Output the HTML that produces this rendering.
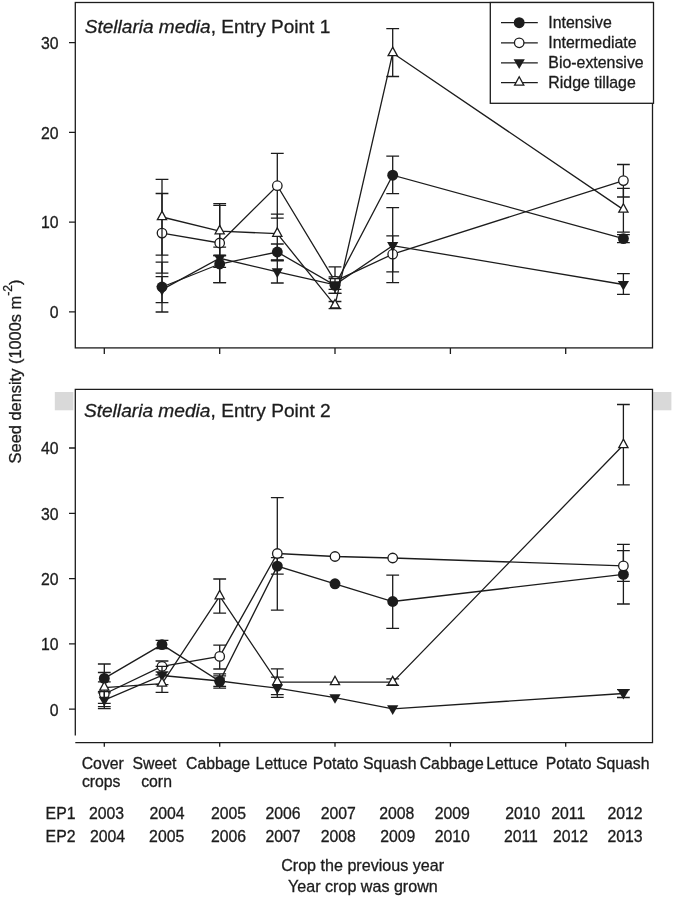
<!DOCTYPE html>
<html><head><meta charset="utf-8"><title>Stellaria media seed density</title>
<style>
html,body{margin:0;padding:0;background:#fff}
svg{display:block}
text{font-family:"Liberation Sans",Arial,sans-serif;fill:#1c1c1c;stroke:#1c1c1c;stroke-width:0.3px}
.eb{fill:none;stroke:#1c1c1c;stroke-width:1.3;}
.t16{font-size:15.8px}
.t19{font-size:19.05px}
.t161{font-size:16.1px}
.tl{font-size:15.9px}
.ty{font-size:16.4px}
</style></head><body>
<svg width="673" height="899" viewBox="0 0 673 899">
<rect width="673" height="899" fill="#fff"/>
<rect x="75.3" y="2.5" width="577.2" height="345.4" fill="none" stroke="#1c1c1c" stroke-width="1.3"/>
<path d="M69 311.8H75.3M69 222.1H75.3M69 132.4H75.3M69 42.7H75.3M104.3 347.9V354.0M219.7 347.9V354.0M335.0 347.9V354.0M450.4 347.9V354.0M565.7 347.9V354.0" fill="none" stroke="#1c1c1c" stroke-width="1.3"/>
<polyline points="162.0,287.0 219.7,264.0 277.3,252.0 335.0,285.3 392.7,175.2 623.4,238.6" fill="none" stroke="#1c1c1c" stroke-width="1.3"/>
<path d="M162.0 262.1V312.0M155.6 262.1H168.4M155.6 312.0H168.4" class="eb"/>
<path d="M219.7 247.2V282.7M213.3 247.2H226.1M213.3 282.7H226.1" class="eb"/>
<path d="M277.3 244.0V260.8M270.9 244.0H283.7M270.9 260.8H283.7" class="eb"/>
<path d="M335.0 276.8V293.3M328.6 276.8H341.4M328.6 293.3H341.4" class="eb"/>
<path d="M392.7 156.2V193.7M386.3 156.2H399.1M386.3 193.7H399.1" class="eb"/>
<path d="M623.4 234.6V242.7M617.0 234.6H629.8M617.0 242.7H629.8" class="eb"/>
<circle cx="162.0" cy="287.0" r="5.45" fill="#1c1c1c"/>
<circle cx="219.7" cy="264.0" r="5.45" fill="#1c1c1c"/>
<circle cx="277.3" cy="252.0" r="5.45" fill="#1c1c1c"/>
<circle cx="335.0" cy="285.3" r="5.45" fill="#1c1c1c"/>
<circle cx="392.7" cy="175.2" r="5.45" fill="#1c1c1c"/>
<circle cx="623.4" cy="238.6" r="5.45" fill="#1c1c1c"/>
<polyline points="162.0,233.1 219.7,243.0 277.3,185.7 335.0,281.2 392.7,254.2 623.4,180.6" fill="none" stroke="#1c1c1c" stroke-width="1.3"/>
<path d="M162.0 193.5V273.2M155.6 193.5H168.4M155.6 273.2H168.4" class="eb"/>
<path d="M219.7 203.7V282.7M213.3 203.7H226.1M213.3 282.7H226.1" class="eb"/>
<path d="M277.3 153.4V218.2M270.9 153.4H283.7M270.9 218.2H283.7" class="eb"/>
<path d="M335.0 266.9V293.3M328.6 266.9H341.4M328.6 293.3H341.4" class="eb"/>
<path d="M392.7 235.8V271.8M386.3 235.8H399.1M386.3 271.8H399.1" class="eb"/>
<path d="M623.4 164.5V197.0M617.0 164.5H629.8M617.0 197.0H629.8" class="eb"/>
<circle cx="162.0" cy="233.1" r="4.75" fill="#fff" stroke="#1c1c1c" stroke-width="1.3"/>
<circle cx="219.7" cy="243.0" r="4.75" fill="#fff" stroke="#1c1c1c" stroke-width="1.3"/>
<circle cx="277.3" cy="185.7" r="4.75" fill="#fff" stroke="#1c1c1c" stroke-width="1.3"/>
<circle cx="335.0" cy="281.2" r="4.75" fill="#fff" stroke="#1c1c1c" stroke-width="1.3"/>
<circle cx="392.7" cy="254.2" r="4.75" fill="#fff" stroke="#1c1c1c" stroke-width="1.3"/>
<circle cx="623.4" cy="180.6" r="4.75" fill="#fff" stroke="#1c1c1c" stroke-width="1.3"/>
<polyline points="162.0,289.6 219.7,258.3 277.3,271.8 335.0,284.8 392.7,245.6 623.4,284.5" fill="none" stroke="#1c1c1c" stroke-width="1.3"/>
<path d="M162.0 276.6V302.6M155.6 276.6H168.4M155.6 302.6H168.4" class="eb"/>
<path d="M219.7 255.5V267.4M213.3 255.5H226.1M213.3 267.4H226.1" class="eb"/>
<path d="M277.3 260.0V283.0M270.9 260.0H283.7M270.9 283.0H283.7" class="eb"/>
<path d="M335.0 278.5V289.3M328.6 278.5H341.4M328.6 289.3H341.4" class="eb"/>
<path d="M392.7 207.7V282.7M386.3 207.7H399.1M386.3 282.7H399.1" class="eb"/>
<path d="M623.4 273.7V294.4M617.0 273.7H629.8M617.0 294.4H629.8" class="eb"/>
<path d="M162.0 295.7L156.4 286.1L167.6 286.1Z" fill="#1c1c1c"/>
<path d="M219.7 264.4L214.1 254.8L225.3 254.8Z" fill="#1c1c1c"/>
<path d="M277.3 277.9L271.7 268.3L282.9 268.3Z" fill="#1c1c1c"/>
<path d="M335.0 290.9L329.4 281.3L340.6 281.3Z" fill="#1c1c1c"/>
<path d="M392.7 251.7L387.1 242.1L398.3 242.1Z" fill="#1c1c1c"/>
<path d="M623.4 290.6L617.8 281.0L629.0 281.0Z" fill="#1c1c1c"/>
<polyline points="162.0,217.0 219.7,231.2 277.3,233.7 335.0,305.3 392.7,53.0 623.4,209.6" fill="none" stroke="#1c1c1c" stroke-width="1.3"/>
<path d="M162.0 179.3V255.1M155.6 179.3H168.4M155.6 255.1H168.4" class="eb"/>
<path d="M219.7 205.4V255.5M213.3 205.4H226.1M213.3 255.5H226.1" class="eb"/>
<path d="M277.3 214.1V260.4M270.9 214.1H283.7M270.9 260.4H283.7" class="eb"/>
<path d="M335.0 301.5V308.6M328.6 301.5H341.4M328.6 308.6H341.4" class="eb"/>
<path d="M392.7 28.6V76.5M386.3 28.6H399.1M386.3 76.5H399.1" class="eb"/>
<path d="M623.4 188.3V232.2M617.0 188.3H629.8M617.0 232.2H629.8" class="eb"/>
<path d="M162.0 211.2L157.4 219.6L166.6 219.6Z" fill="#fff" stroke="#1c1c1c" stroke-width="1.3"/>
<path d="M219.7 225.4L215.1 233.8L224.3 233.8Z" fill="#fff" stroke="#1c1c1c" stroke-width="1.3"/>
<path d="M277.3 227.9L272.7 236.3L281.9 236.3Z" fill="#fff" stroke="#1c1c1c" stroke-width="1.3"/>
<path d="M335.0 299.5L330.4 307.9L339.6 307.9Z" fill="#fff" stroke="#1c1c1c" stroke-width="1.3"/>
<path d="M392.7 47.2L388.1 55.6L397.3 55.6Z" fill="#fff" stroke="#1c1c1c" stroke-width="1.3"/>
<path d="M623.4 203.8L618.8 212.2L628.0 212.2Z" fill="#fff" stroke="#1c1c1c" stroke-width="1.3"/>
<rect x="54.8" y="392.0" width="18.6" height="18.3" fill="#d9d9d9"/>
<rect x="653.2" y="392.0" width="18.2" height="18.3" fill="#d9d9d9"/>
<path d="M75.3 735.4V389.3H652.5V742.6H75.3" fill="none" stroke="#1c1c1c" stroke-width="1.3"/>
<path d="M69 709.2H75.3M69 643.9H75.3M69 578.6H75.3M69 513.3H75.3M69 448.0H75.3M104.3 742.6V746.8M219.7 742.6V746.8M335.0 742.6V746.8M450.4 742.6V746.8M565.7 742.6V746.8" fill="none" stroke="#1c1c1c" stroke-width="1.3"/>
<polyline points="104.3,678.4 162.0,644.6 219.7,681.3 277.3,566.1 335.0,583.8 392.7,601.5 623.4,574.4" fill="none" stroke="#1c1c1c" stroke-width="1.3"/>
<path d="M104.3 664.0V692.9M97.9 664.0H110.7M97.9 692.9H110.7" class="eb"/>
<path d="M162.0 640.3V648.6M155.6 640.3H168.4M155.6 648.6H168.4" class="eb"/>
<path d="M219.7 673.8V688.2M213.3 673.8H226.1M213.3 688.2H226.1" class="eb"/>
<path d="M277.3 557.7V574.2M270.9 557.7H283.7M270.9 574.2H283.7" class="eb"/>
<path d="M392.7 575.1V628.3M386.3 575.1H399.1M386.3 628.3H399.1" class="eb"/>
<path d="M623.4 544.4V604.0M617.0 544.4H629.8M617.0 604.0H629.8" class="eb"/>
<circle cx="104.3" cy="678.4" r="5.45" fill="#1c1c1c"/>
<circle cx="162.0" cy="644.6" r="5.45" fill="#1c1c1c"/>
<circle cx="219.7" cy="681.3" r="5.45" fill="#1c1c1c"/>
<circle cx="277.3" cy="566.1" r="5.45" fill="#1c1c1c"/>
<circle cx="335.0" cy="583.8" r="5.45" fill="#1c1c1c"/>
<circle cx="392.7" cy="601.5" r="5.45" fill="#1c1c1c"/>
<circle cx="623.4" cy="574.4" r="5.45" fill="#1c1c1c"/>
<polyline points="104.3,694.0 162.0,666.4 219.7,656.4 277.3,553.5 335.0,556.5 392.7,558.0 623.4,565.9" fill="none" stroke="#1c1c1c" stroke-width="1.3"/>
<path d="M104.3 681.9V706.6M97.9 681.9H110.7M97.9 706.6H110.7" class="eb"/>
<path d="M162.0 661.0V671.8M155.6 661.0H168.4M155.6 671.8H168.4" class="eb"/>
<path d="M219.7 645.1V669.0M213.3 645.1H226.1M213.3 669.0H226.1" class="eb"/>
<path d="M277.3 497.6V610.2M270.9 497.6H283.7M270.9 610.2H283.7" class="eb"/>
<path d="M623.4 550.7V581.3M617.0 550.7H629.8M617.0 581.3H629.8" class="eb"/>
<circle cx="104.3" cy="694.0" r="4.75" fill="#fff" stroke="#1c1c1c" stroke-width="1.3"/>
<circle cx="162.0" cy="666.4" r="4.75" fill="#fff" stroke="#1c1c1c" stroke-width="1.3"/>
<circle cx="219.7" cy="656.4" r="4.75" fill="#fff" stroke="#1c1c1c" stroke-width="1.3"/>
<circle cx="277.3" cy="553.5" r="4.75" fill="#fff" stroke="#1c1c1c" stroke-width="1.3"/>
<circle cx="335.0" cy="556.5" r="4.75" fill="#fff" stroke="#1c1c1c" stroke-width="1.3"/>
<circle cx="392.7" cy="558.0" r="4.75" fill="#fff" stroke="#1c1c1c" stroke-width="1.3"/>
<circle cx="623.4" cy="565.9" r="4.75" fill="#fff" stroke="#1c1c1c" stroke-width="1.3"/>
<polyline points="104.3,700.2 162.0,675.5 219.7,681.0 277.3,688.2 335.0,697.7 392.7,708.8 623.4,693.5" fill="none" stroke="#1c1c1c" stroke-width="1.3"/>
<path d="M104.3 691.7V708.7M97.9 691.7H110.7M97.9 708.7H110.7" class="eb"/>
<path d="M162.0 666.4V684.6M155.6 666.4H168.4M155.6 684.6H168.4" class="eb"/>
<path d="M219.7 675.8V686.3M213.3 675.8H226.1M213.3 686.3H226.1" class="eb"/>
<path d="M277.3 677.1V697.3M270.9 677.1H283.7M270.9 697.3H283.7" class="eb"/>
<path d="M623.4 689.6V697.5M617.0 689.6H629.8M617.0 697.5H629.8" class="eb"/>
<path d="M104.3 706.3L98.7 696.7L109.9 696.7Z" fill="#1c1c1c"/>
<path d="M162.0 681.6L156.4 672.0L167.6 672.0Z" fill="#1c1c1c"/>
<path d="M219.7 687.1L214.1 677.5L225.3 677.5Z" fill="#1c1c1c"/>
<path d="M277.3 694.3L271.7 684.7L282.9 684.7Z" fill="#1c1c1c"/>
<path d="M335.0 703.8L329.4 694.2L340.6 694.2Z" fill="#1c1c1c"/>
<path d="M392.7 714.9L387.1 705.3L398.3 705.3Z" fill="#1c1c1c"/>
<path d="M623.4 699.6L617.8 690.0L629.0 690.0Z" fill="#1c1c1c"/>
<polyline points="104.3,687.6 162.0,683.6 219.7,596.2 277.3,682.1 335.0,682.1 392.7,682.2 623.4,445.0" fill="none" stroke="#1c1c1c" stroke-width="1.3"/>
<path d="M104.3 672.5V703.3M97.9 672.5H110.7M97.9 703.3H110.7" class="eb"/>
<path d="M162.0 674.9V692.3M155.6 674.9H168.4M155.6 692.3H168.4" class="eb"/>
<path d="M219.7 579.0V613.1M213.3 579.0H226.1M213.3 613.1H226.1" class="eb"/>
<path d="M277.3 668.9V694.7M270.9 668.9H283.7M270.9 694.7H283.7" class="eb"/>
<path d="M392.7 678.9V685.3M386.3 678.9H399.1M386.3 685.3H399.1" class="eb"/>
<path d="M623.4 404.5V484.8M617.0 404.5H629.8M617.0 484.8H629.8" class="eb"/>
<path d="M104.3 681.8L99.7 690.2L108.9 690.2Z" fill="#fff" stroke="#1c1c1c" stroke-width="1.3"/>
<path d="M162.0 677.8L157.4 686.2L166.6 686.2Z" fill="#fff" stroke="#1c1c1c" stroke-width="1.3"/>
<path d="M219.7 590.4L215.1 598.8L224.3 598.8Z" fill="#fff" stroke="#1c1c1c" stroke-width="1.3"/>
<path d="M277.3 676.3L272.7 684.7L281.9 684.7Z" fill="#fff" stroke="#1c1c1c" stroke-width="1.3"/>
<path d="M335.0 676.3L330.4 684.7L339.6 684.7Z" fill="#fff" stroke="#1c1c1c" stroke-width="1.3"/>
<path d="M392.7 676.4L388.1 684.8L397.3 684.8Z" fill="#fff" stroke="#1c1c1c" stroke-width="1.3"/>
<path d="M623.4 439.2L618.8 447.6L628.0 447.6Z" fill="#fff" stroke="#1c1c1c" stroke-width="1.3"/>
<rect x="490.3" y="2.5" width="163.2" height="100.8" fill="#fff" stroke="#1c1c1c" stroke-width="1.3"/>
<path d="M501 22.7H537.8" fill="none" stroke="#1c1c1c" stroke-width="1.3"/>
<circle cx="519.2" cy="22.7" r="5.45" fill="#1c1c1c"/>
<text x="548.3" y="28.3" class="tl">Intensive</text>
<path d="M501 42.8H537.8" fill="none" stroke="#1c1c1c" stroke-width="1.3"/>
<circle cx="519.2" cy="42.8" r="4.75" fill="#fff" stroke="#1c1c1c" stroke-width="1.3"/>
<text x="548.3" y="48.4" class="tl">Intermediate</text>
<path d="M501 62.8H537.8" fill="none" stroke="#1c1c1c" stroke-width="1.3"/>
<path d="M519.2 68.9L513.6 59.3L524.8 59.3Z" fill="#1c1c1c"/>
<text x="548.3" y="68.4" class="tl">Bio-extensive</text>
<path d="M501 82.6H537.8" fill="none" stroke="#1c1c1c" stroke-width="1.3"/>
<path d="M519.2 76.8L514.6 85.2L523.8 85.2Z" fill="#fff" stroke="#1c1c1c" stroke-width="1.3"/>
<text x="548.3" y="88.2" class="tl">Ridge tillage</text>
<text x="58.6" y="318.1" text-anchor="end" class="t16">0</text>
<text x="58.6" y="228.4" text-anchor="end" class="t16">10</text>
<text x="58.6" y="138.7" text-anchor="end" class="t16">20</text>
<text x="58.6" y="49.0" text-anchor="end" class="t16">30</text>
<text x="58.6" y="715.5" text-anchor="end" class="t16">0</text>
<text x="58.6" y="650.2" text-anchor="end" class="t16">10</text>
<text x="58.6" y="584.9" text-anchor="end" class="t16">20</text>
<text x="58.6" y="519.6" text-anchor="end" class="t16">30</text>
<text x="58.6" y="454.3" text-anchor="end" class="t16">40</text>
<text x="84.8" y="33.1" class="t19"><tspan font-style="italic">Stellaria media</tspan>, Entry Point 1</text>
<text x="83.9" y="417.2" class="t19" style="font-size:19.15px"><tspan font-style="italic">Stellaria media</tspan>, Entry Point 2</text>
<text transform="translate(20.6 463.4) rotate(-90)" class="ty">Seed density (1000s m<tspan dy="-8.6" font-size="12.2">-2</tspan><tspan dy="8.6">)</tspan></text>
<text x="81.7" y="769.2" class="t16">Cover</text>
<text x="132.5" y="769.2" class="t16">Sweet</text>
<text x="186.0" y="769.2" class="t16">Cabbage</text>
<text x="255.6" y="769.2" class="t16">Lettuce</text>
<text x="312.7" y="769.2" class="t16">Potato</text>
<text x="362.9" y="769.2" class="t16">Squash</text>
<text x="419.7" y="769.2" class="t16">Cabbage</text>
<text x="486.2" y="769.2" class="t16">Lettuce</text>
<text x="545.8" y="769.2" class="t16">Potato</text>
<text x="595.9" y="769.2" class="t16">Squash</text>
<text x="81.9" y="786.6" class="t16">crops</text>
<text x="141.2" y="786.6" class="t16">corn</text>
<text x="45.6" y="818.6" class="t16">EP1</text>
<text x="45.6" y="842.0" class="t16">EP2</text>
<text x="89.0" y="818.6" class="t16">2003</text>
<text x="149.5" y="818.6" class="t16">2004</text>
<text x="211.0" y="818.6" class="t16">2005</text>
<text x="265.5" y="818.6" class="t16">2006</text>
<text x="320.7" y="818.6" class="t16">2007</text>
<text x="379.2" y="818.6" class="t16">2008</text>
<text x="434.7" y="818.6" class="t16">2009</text>
<text x="505.2" y="818.6" class="t16">2010</text>
<text x="551.3" y="818.6" class="t16">2011</text>
<text x="607.5" y="818.6" class="t16">2012</text>
<text x="90.0" y="842.0" class="t16">2004</text>
<text x="149.1" y="842.0" class="t16">2005</text>
<text x="211.0" y="842.0" class="t16">2006</text>
<text x="265.5" y="842.0" class="t16">2007</text>
<text x="320.7" y="842.0" class="t16">2008</text>
<text x="380.2" y="842.0" class="t16">2009</text>
<text x="434.7" y="842.0" class="t16">2010</text>
<text x="503.9" y="842.0" class="t16">2011</text>
<text x="553.0" y="842.0" class="t16">2012</text>
<text x="607.5" y="842.0" class="t16">2013</text>
<text x="362.6" y="871.0" text-anchor="middle" class="t161">Crop the previous year</text>
<text x="362.9" y="891.8" text-anchor="middle" class="t161">Year crop was grown</text>
</svg>
</body></html>
